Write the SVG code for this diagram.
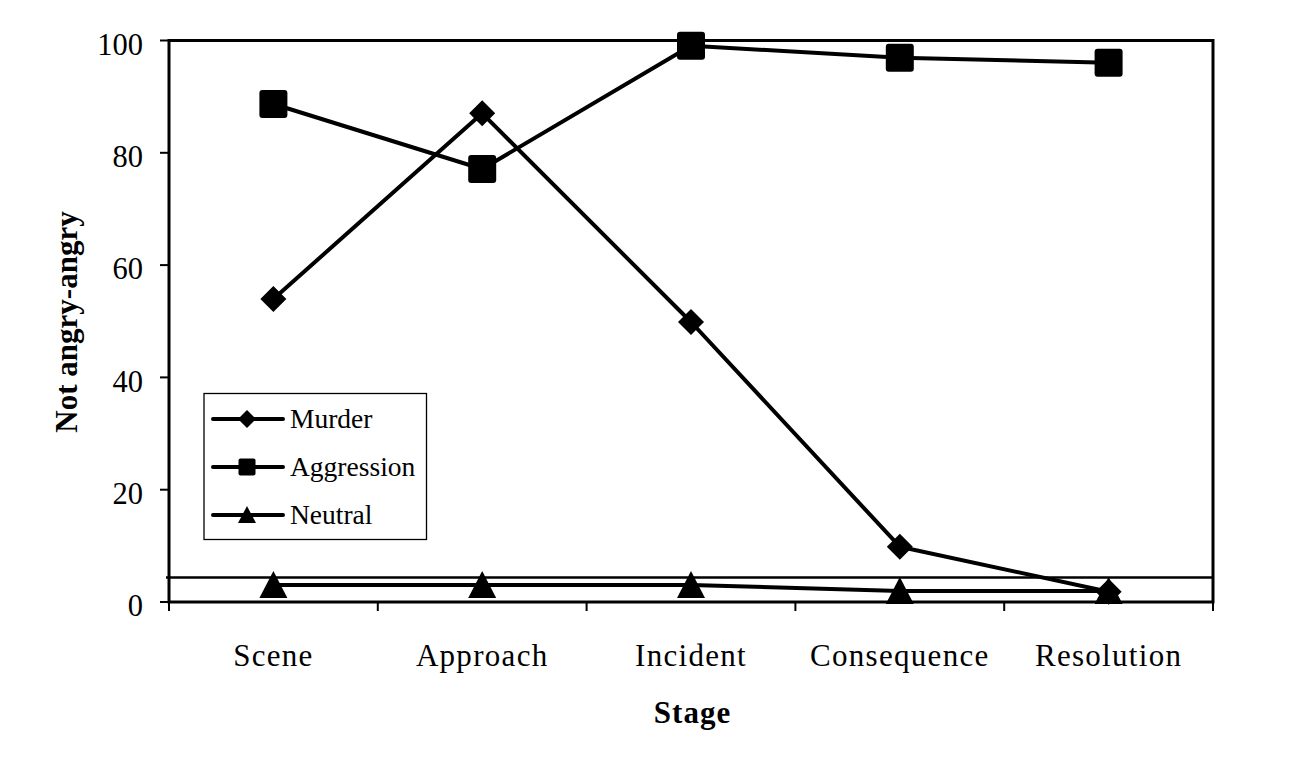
<svg xmlns="http://www.w3.org/2000/svg" width="1291" height="774" viewBox="0 0 1291 774">
<style>
.t{font-family:"Liberation Serif","Times New Roman",serif;fill:#000}
.tick{font-size:30.5px;text-anchor:end}
.cat{font-size:31px;letter-spacing:1.3px;text-anchor:middle}
.leg{font-size:27.5px}
.ttl{font-size:31px;font-weight:bold}
.ser{fill:none;stroke:#000;stroke-width:4;stroke-linejoin:round}
.ax{stroke:#000;stroke-width:3;fill:none}
.tk{stroke:#000;stroke-width:2}
</style>
<defs>
<rect id="sq" x="-14" y="-14" width="28" height="28" rx="3" fill="#000"/>
<path id="dm" d="M0,-13 L13,0 L0,13 L-13,0 Z" fill="#000"/>
<path id="tr" d="M0,-14 L14,13 L-14,13 Z" fill="#000"/>
<rect id="sqs" x="-8.5" y="-8.5" width="17" height="17" rx="2" fill="#000"/>
<path id="dms" d="M0,-9 L9,0 L0,9 L-9,0 Z" fill="#000"/>
<path id="trs" d="M0,-9 L9,8 L-9,8 Z" fill="#000"/>
</defs>
<rect width="1291" height="774" fill="#fff"/>
<g id="axes">
<rect x="169" y="40.5" width="1044" height="561.5" class="ax"/>
<g class="tk">
<line x1="160" y1="40.5" x2="169" y2="40.5"/>
<line x1="160" y1="152.8" x2="169" y2="152.8"/>
<line x1="160" y1="265.1" x2="169" y2="265.1"/>
<line x1="160" y1="377.4" x2="169" y2="377.4"/>
<line x1="160" y1="489.7" x2="169" y2="489.7"/>
<line x1="160" y1="602" x2="169" y2="602"/>
<line x1="169" y1="602" x2="169" y2="611"/>
<line x1="377.8" y1="602" x2="377.8" y2="611"/>
<line x1="586.6" y1="602" x2="586.6" y2="611"/>
<line x1="795.4" y1="602" x2="795.4" y2="611"/>
<line x1="1004.2" y1="602" x2="1004.2" y2="611"/>
<line x1="1213" y1="602" x2="1213" y2="611"/>
</g>
<g class="t tick">
<text x="143" y="55">100</text>
<text x="143" y="167">80</text>
<text x="143" y="279">60</text>
<text x="143" y="392">40</text>
<text x="143" y="504">20</text>
<text x="143" y="616">0</text>
</g>
<g class="t cat">
<text x="273.4" y="666">Scene</text>
<text x="482.2" y="666">Approach</text>
<text x="691" y="666">Incident</text>
<text x="899.8" y="666">Consequence</text>
<text x="1108.6" y="666">Resolution</text>
</g>
<text class="t ttl" x="692.5" y="723" text-anchor="middle" letter-spacing="1">Stage</text>
<text class="t ttl" transform="translate(77,322) rotate(-90)" text-anchor="middle">Not angry-angry</text>
</g>
<g id="connectors">
<line id="refline" x1="166" y1="577.5" x2="1213" y2="577.5" stroke="#000" stroke-width="2.5"/>
<polyline class="ser" points="273.4,299 482.2,113.3 691,322 899.8,546.7 1108.6,591.7"/>
<polyline class="ser" points="273.4,104 482.2,169 691,45.7 899.8,57.7 1108.6,62.7"/>
<polyline class="ser" points="273.4,585 482.2,585 691,585 899.8,591 1108.6,591"/>
</g>
<g id="series-murder">
<use href="#dm" x="273.4" y="299"/>
<use href="#dm" x="482.2" y="113.3"/>
<use href="#dm" x="691" y="322"/>
<use href="#dm" x="899.8" y="546.7"/>
<use href="#dm" x="1108.6" y="591.7"/>
</g>
<g id="series-aggression">
<use href="#sq" x="273.4" y="104"/>
<use href="#sq" x="482.2" y="169"/>
<use href="#sq" x="691" y="45.7"/>
<use href="#sq" x="899.8" y="57.7"/>
<use href="#sq" x="1108.6" y="62.7"/>
</g>
<g id="series-neutral">
<use href="#tr" x="273.4" y="585"/>
<use href="#tr" x="482.2" y="585"/>
<use href="#tr" x="691" y="585"/>
<use href="#tr" x="899.8" y="591"/>
<use href="#tr" x="1108.6" y="591"/>
</g>
<g id="legend">
<rect x="204" y="393.5" width="222.5" height="146" fill="#fff" stroke="#000" stroke-width="1.3"/>
<line x1="213" y1="419" x2="283" y2="419" stroke="#000" stroke-width="4" stroke-linecap="round"/>
<use href="#dms" x="247" y="419"/>
<line x1="213" y1="467" x2="283" y2="467" stroke="#000" stroke-width="4" stroke-linecap="round"/>
<use href="#sqs" x="247" y="467"/>
<line x1="213" y1="515" x2="283" y2="515" stroke="#000" stroke-width="4" stroke-linecap="round"/>
<use href="#trs" x="247" y="515"/>
<text class="t leg" x="290" y="428">Murder</text>
<text class="t leg" x="290" y="476">Aggression</text>
<text class="t leg" x="290" y="524">Neutral</text>
</g>
</svg>
